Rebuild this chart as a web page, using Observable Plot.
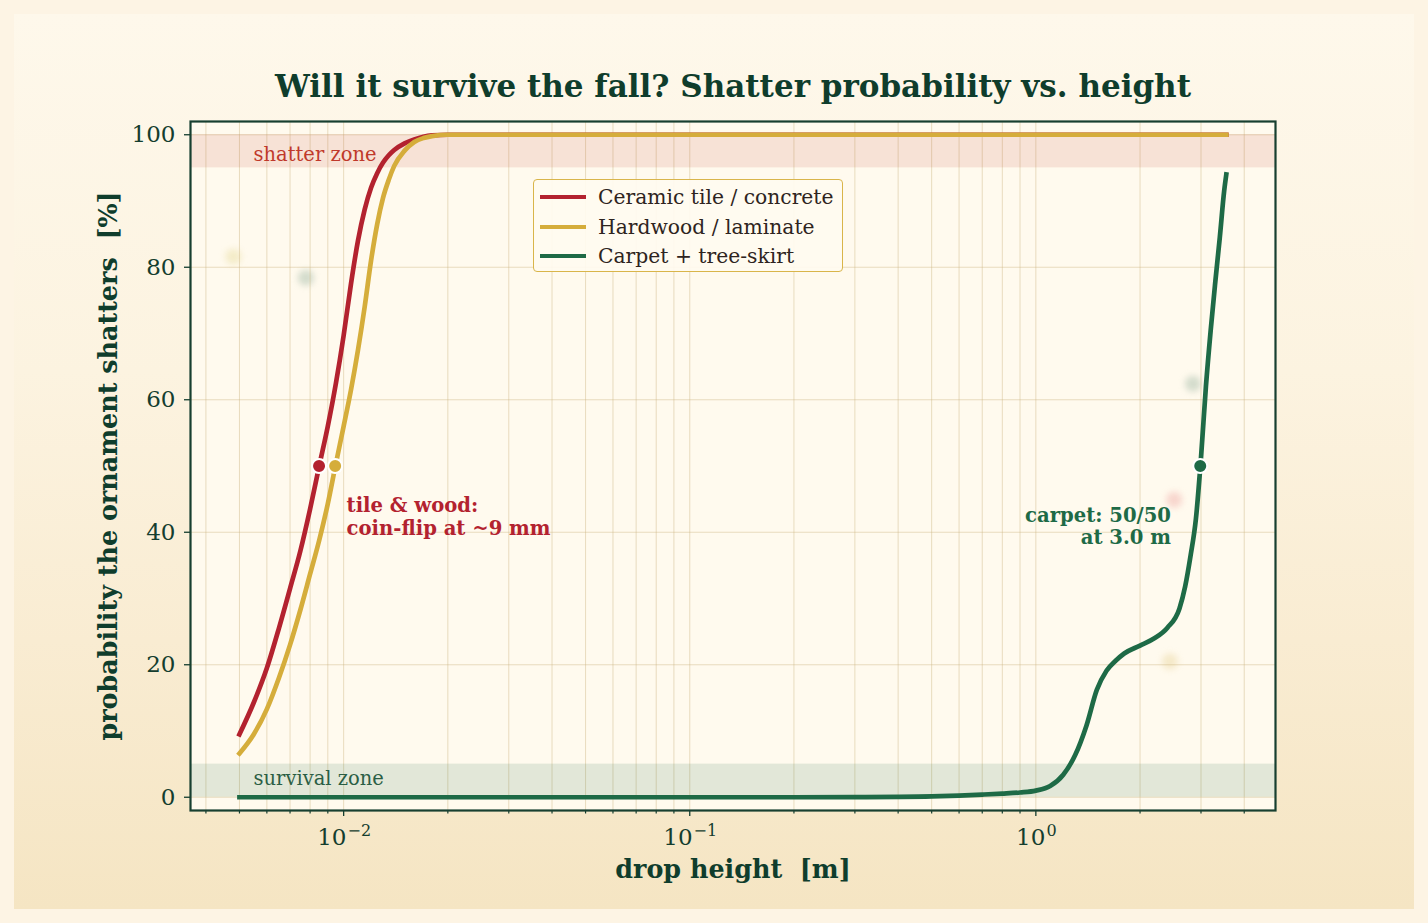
<!DOCTYPE html>
<html>
<head>
<meta charset="utf-8">
<script src="https://cdn.jsdelivr.net/npm/d3@7"></script>
<script src="https://cdn.jsdelivr.net/npm/@observablehq/plot@0.6"></script>
<style>
  html, body { margin: 0; padding: 0; }
  body { width: 1428px; height: 923px; background: #fdf4e4; position: relative; overflow: hidden; font-family: "DejaVu Serif", serif; }
  #panel { position: absolute; left: 14px; top: 14px; width: 1400px; height: 895px;
    background: linear-gradient(180deg, #fef8eb 0%, #fcf3e0 40%, #f9ecd2 70%, #f5e5c3 100%); }
  #chart { position: absolute; left: 0; top: 0; }
  #legend { position: absolute; left: 533px; top: 179px; width: 310px; height: 93px; box-sizing: border-box;
    border: 1.5px solid #d9b54a; border-radius: 4px; background: rgba(255, 251, 240, 0.92); }
  .row { position: absolute; left: 0; height: 24px; width: 100%; }
  .sw { position: absolute; left: 6px; top: 10px; width: 46px; height: 4px; }
  .lb { position: absolute; left: 64px; top: 0; line-height: 24px; font-size: 20.3px; color: #2e2420; white-space: nowrap; }
</style>
</head>
<body>
<div id="panel"></div>
<div id="chart"></div>
<div id="legend"></div>
<script>
// ---------------- data ----------------
const heights = [0.005, 0.0055, 0.006, 0.0065, 0.007, 0.0075, 0.008, 0.0085, 0.009, 0.0095,
  0.010, 0.0105, 0.011, 0.0115, 0.012, 0.0125, 0.013, 0.0135, 0.014, 0.015, 0.016, 0.017, 0.018,
  0.02, 0.03, 0.05, 0.1, 0.2, 0.3, 0.4, 0.5, 0.6, 0.7, 0.8, 0.9, 1.0, 1.1, 1.2, 1.3, 1.4, 1.5,
  1.6, 1.7, 1.8, 2.0, 2.2, 2.4, 2.6, 2.7, 2.8, 2.9, 3.0, 3.1, 3.2, 3.3, 3.4, 3.5, 3.55];

const ceramic = [9.5, 14.3, 19.5, 25.5, 31.5, 37.2, 43.5, 50, 56, 62.5,
  69.7, 77.5, 84, 88.7, 92, 94.2, 95.8, 96.9, 97.7, 98.7, 99.3, 99.7, 99.9,
  100, 100, 100, 100, 100, 100, 100, 100, 100, 100, 100, 100, 100, 100, 100, 100, 100, 100,
  100, 100, 100, 100, 100, 100, 100, 100, 100, 100, 100, 100, 100, 100, 100, 100, 100];

const hardwood = [6.6, 9.5, 13.3, 18, 23, 28.3, 33.7, 38.8, 44.3, 50.4,
  56, 61.5, 67.5, 74, 81, 86.5, 90.5, 93.2, 95.3, 97.6, 98.9, 99.5, 99.8,
  100, 100, 100, 100, 100, 100, 100, 100, 100, 100, 100, 100, 100, 100, 100, 100, 100, 100,
  100, 100, 100, 100, 100, 100, 100, 100, 100, 100, 100, 100, 100, 100, 100, 100, 100];

const carpet = [0, 0, 0, 0, 0, 0, 0, 0, 0, 0,
  0, 0, 0, 0, 0, 0, 0, 0, 0, 0, 0, 0, 0,
  0, 0, 0, 0, 0, 0.02, 0.05, 0.12, 0.25, 0.4, 0.55, 0.72, 1.0, 1.7, 3.4, 6.4, 10.8, 16.2,
  19.1, 20.6, 21.7, 22.9, 24.0, 25.6, 28.5, 31.8, 36.5, 42, 51.2, 62, 70.5, 77.8, 84.5, 91.5, 94];

const seriesNames = ["Ceramic tile / concrete", "Hardwood / laminate", "Carpet + tree-skirt"];
const seriesColors = ["#b3222f", "#d5ad3b", "#1e6a46"];

// 50 % crossing heights
const halfHeights = [0.00849, 0.00945, 2.985];
const halfLevel = 50;

const yTicks = [0, 20, 40, 60, 80, 100];
const xMajor = [0.01, 0.1, 1];
const xTickBase = "10";
const xTickExps = ["\u22122", "\u22121", "0"];
const xMinor = [0.004, 0.005, 0.006, 0.007, 0.008, 0.009,
  0.02, 0.03, 0.04, 0.05, 0.06, 0.07, 0.08, 0.09,
  0.2, 0.3, 0.4, 0.5, 0.6, 0.7, 0.8, 0.9, 2, 3, 4];

const zoneNames = ["shatter zone", "survival zone"];
const zoneLow = [95, 0];
const zoneHigh = [100, 5];

const noteTexts = ["tile & wood:\ncoin-flip at ~9 mm", "carpet: 50/50\nat 3.0 m"];
const noteH = [0.0102, 2.457];
const noteP = [42.4, 41.0];

const bokehH = [0.0048, 0.00778, 2.844, 2.51, 2.44];
const bokehP = [81.6, 78.4, 62.4, 44.9, 20.5];
const bokehColors = ["#e6dc9c", "#9fb8a4", "#9fb8a4", "#efaaa6", "#e9d59c"];

const titleText = "Will it survive the fall? Shatter probability vs. height";
const xLabelText = "drop height\u00a0 [m]";
const yLabelText = "probability the ornament shatters\u00a0 [%]";

// ---------------- build ----------------
const valueSets = [ceramic, hardwood, carpet];
const rows = seriesNames.flatMap((name, i) => heights.map((h, j) => ({series: name, h, p: valueSets[i][j]})));
const halfRows = seriesNames.map((name, i) => ({series: name, h: halfHeights[i], p: halfLevel}));
const zones = zoneNames.map((n, i) => ({label: n, lo: zoneLow[i], hi: zoneHigh[i]}));
const notes = noteTexts.map((t, i) => ({text: t, h: noteH[i], p: noteP[i]}));

const ink = "#143d2e";
const gridColor = "#cdb683";
const tickFont = 23;
const expFont = 16;
const baseW = 2 * 0.636 * tickFont;
const expWidth = s => [...s].reduce((a, c) => a + (c === "\u2212" ? 0.838 : 0.636), 0) * expFont;

const tickLabelMarks = xMajor.flatMap((v, i) => {
  const w = expWidth(xTickExps[i]);
  const off = (baseW - w) / 2;
  return [
    Plot.text([v], {x: d => d, frameAnchor: "bottom", lineAnchor: "middle", dy: 27, dx: off, text: () => xTickBase, textAnchor: "end", fontSize: tickFont, fill: ink}),
    Plot.text([v], {x: d => d, frameAnchor: "bottom", lineAnchor: "middle", dy: 20.5, dx: off + 1, text: () => xTickExps[i], textAnchor: "start", fontSize: expFont, fill: ink})
  ];
});

const marks = [
  Plot.frame({fill: "#fffaee"}),
  ...bokehH.map((h, i) => Plot.dot([{h, p: bokehP[i]}], {x: "h", y: "p", r: 8, fill: bokehColors[i], fillOpacity: 0.45, imageFilter: "blur(3px)"})),
  Plot.ruleX([...xMinor, ...xMajor], {stroke: gridColor, strokeOpacity: 0.45, strokeWidth: 1}),
  Plot.ruleY(yTicks, {stroke: gridColor, strokeOpacity: 0.45, strokeWidth: 1}),
  Plot.rect([zones[0]], {y1: "lo", y2: "hi", fill: "#c0392b", fillOpacity: 0.12}),
  Plot.rect([zones[1]], {y1: "lo", y2: "hi", fill: "#1e6a46", fillOpacity: 0.13}),
  Plot.text([zones[0]], {frameAnchor: "left", y: d => (d.lo + d.hi) / 2, dx: 63, dy: 3, text: "label", textAnchor: "start", fontSize: 19.5, fill: "#c0392b"}),
  Plot.text([zones[1]], {frameAnchor: "left", y: d => (d.lo + d.hi) / 2, dx: 63, dy: -2, text: "label", textAnchor: "start", fontSize: 19.5, fill: "#2b5e44"}),
  Plot.line(rows, {x: "h", y: "p", z: "series", stroke: "series", strokeWidth: 4.7, curve: "monotone-x", strokeLinecap: "square"}),
  Plot.dot(halfRows, {x: "h", y: "p", fill: "series", r: 7, stroke: "white", strokeWidth: 2}),
  Plot.text([notes[0]], {x: "h", y: "p", text: "text", textAnchor: "start", fontSize: 19.6, fontWeight: "bold", lineHeight: 1.15, fill: "#b3222f"}),
  Plot.text([notes[1]], {x: "h", y: "p", text: "text", textAnchor: "end", fontSize: 19.6, fontWeight: "bold", lineHeight: 1.16, fill: "#1e6a46"}),
  Plot.axisX(xMinor, {tickSize: 3.5, tickFormat: () => "", label: null, stroke: ink, strokeWidth: 1.2}),
  Plot.axisX(xMajor, {tickSize: 6, tickFormat: () => "", label: null, stroke: ink, strokeWidth: 1.3}),
  ...tickLabelMarks,
  Plot.axisY(yTicks, {tickSize: 6, tickPadding: 9, label: null, fontSize: tickFont, fill: ink, stroke: ink, strokeWidth: 1.3}),
  Plot.frame({stroke: "#173f30", strokeWidth: 2.2}),
  Plot.text([titleText], {text: d => d, frameAnchor: "top", lineAnchor: "middle", dy: -34, fontSize: 31, fontWeight: "bold", fill: "#0f3d2c"}),
  Plot.text([xLabelText], {text: d => d, frameAnchor: "bottom", lineAnchor: "middle", dy: 59, fontSize: 25.4, fontWeight: "bold", fill: "#0f3d2c"}),
  Plot.text([yLabelText], {text: d => d, frameAnchor: "left", textAnchor: "middle", lineAnchor: "middle", dx: -82, rotate: -90, fontSize: 25.4, fontWeight: "bold", fill: "#0f3d2c"})
];

const chart = Plot.plot({
  width: 1428,
  height: 923,
  marginLeft: 190,
  marginRight: 153,
  marginTop: 121,
  marginBottom: 113,
  x: {type: "log", domain: [0.00361, 4.925]},
  y: {domain: [-2, 102]},
  color: {domain: seriesNames, range: seriesColors},
  style: {background: "transparent", fontFamily: "'DejaVu Serif', serif", color: ink, overflow: "visible"},
  marks
});
document.getElementById("chart").appendChild(chart);

// legend (HTML overlay)
const legend = document.getElementById("legend");
seriesNames.forEach((name, i) => {
  const row = document.createElement("div");
  row.className = "row";
  row.style.top = (5 + i * 29.5) + "px";
  const sw = document.createElement("div");
  sw.className = "sw";
  sw.style.background = seriesColors[i];
  const lb = document.createElement("div");
  lb.className = "lb";
  lb.textContent = name;
  row.appendChild(sw);
  row.appendChild(lb);
  legend.appendChild(row);
});
</script>
</body>
</html>
